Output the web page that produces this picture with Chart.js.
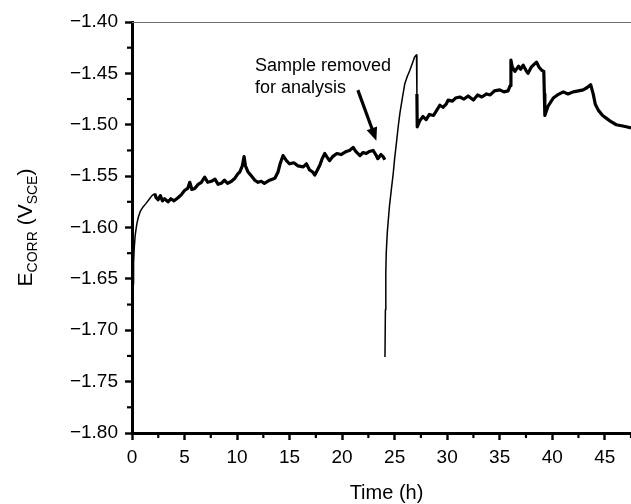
<!DOCTYPE html>
<html>
<head>
<meta charset="utf-8">
<script src="https://cdn.jsdelivr.net/npm/chart.js@4/dist/chart.umd.min.js"></script>
<style>
html,body{margin:0;padding:0;background:#fff;}
#wrap{width:631px;height:504px;position:relative;}
</style>
</head>
<body>
<div id="wrap"><canvas id="c" width="631" height="504"></canvas></div>
<script>
// ---- Data ----
const timeBefore = [0.05,0.1,0.15,0.2,0.3,0.45,0.6,0.8,1.05,1.3,1.6,1.9,2.16,2.3,2.48,2.7,2.9,3.1,3.43,3.7,4.0,4.38,4.7,5.0,5.3,5.5,5.7,5.97,6.3,6.6,6.92,7.2,7.56,7.9,8.2,8.5,8.8,9.1,9.47,9.8,10.05,10.26,10.5,10.67,10.8,11.05,11.3,11.69,12.0,12.3,12.6,13.1,13.6,13.9,14.1,14.38,14.7,15.0,15.4,15.8,16.3,16.6,16.9,17.2,17.4,17.7,17.9,18.1,18.35,18.6,18.8,19.1,19.5,19.9,20.4,20.7,21.05,21.3,21.7,22.0,22.3,22.6,22.95,23.2,23.4,23.7,23.9,24.07];
const ecorrBefore = [-1.675,-1.655,-1.635,-1.622,-1.608,-1.597,-1.590,-1.584,-1.580,-1.577,-1.573,-1.569,-1.567,-1.571,-1.573,-1.569,-1.574,-1.572,-1.575,-1.572,-1.574,-1.571,-1.568,-1.564,-1.562,-1.556,-1.563,-1.562,-1.558,-1.556,-1.551,-1.556,-1.555,-1.553,-1.558,-1.557,-1.554,-1.557,-1.555,-1.552,-1.548,-1.546,-1.540,-1.531,-1.540,-1.546,-1.549,-1.554,-1.556,-1.555,-1.557,-1.554,-1.552,-1.546,-1.538,-1.530,-1.535,-1.538,-1.537,-1.540,-1.541,-1.538,-1.544,-1.546,-1.549,-1.543,-1.539,-1.533,-1.528,-1.532,-1.535,-1.531,-1.528,-1.529,-1.526,-1.525,-1.522,-1.526,-1.530,-1.527,-1.528,-1.526,-1.525,-1.529,-1.533,-1.529,-1.531,-1.534];
const timeAfter = [24.08,24.12,24.16,24.2,24.3,24.5,24.7,24.86,25.0,25.2,25.35,25.5,25.75,25.97,26.2,26.45,26.7,26.9,27.08,27.12,27.15,27.4,27.7,28.0,28.3,28.7,29.0,29.3,29.6,29.9,30.1,30.5,30.8,31.2,31.6,32.0,32.5,32.9,33.3,33.75,34.1,34.5,35.0,35.4,35.8,36.0,36.07,36.2,36.45,36.8,37.0,37.24,37.5,37.7,38.0,38.3,38.5,38.75,39.0,39.2,39.25,39.3,39.6,40.1,40.5,41.05,41.5,42.0,42.5,42.95,43.3,43.66,43.9,44.1,44.4,44.8,45.2,45.6,46.1,46.6,47.05,47.5];
const ecorrAfter = [-1.726,-1.680,-1.645,-1.625,-1.605,-1.580,-1.562,-1.548,-1.533,-1.515,-1.501,-1.489,-1.473,-1.460,-1.453,-1.447,-1.440,-1.434,-1.432,-1.470,-1.502,-1.496,-1.492,-1.495,-1.490,-1.491,-1.486,-1.481,-1.483,-1.480,-1.476,-1.477,-1.474,-1.473,-1.475,-1.472,-1.476,-1.471,-1.473,-1.470,-1.471,-1.467,-1.466,-1.468,-1.467,-1.462,-1.437,-1.444,-1.448,-1.443,-1.446,-1.442,-1.447,-1.450,-1.444,-1.441,-1.439,-1.444,-1.447,-1.448,-1.470,-1.491,-1.482,-1.474,-1.471,-1.468,-1.470,-1.468,-1.467,-1.466,-1.464,-1.461,-1.470,-1.480,-1.486,-1.491,-1.494,-1.497,-1.500,-1.501,-1.502,-1.503];
const xTicks = [0,5,10,15,20,25,30,35,40,45];
const yTicks = [-1.80,-1.75,-1.70,-1.65,-1.60,-1.55,-1.50,-1.45,-1.40];
const annotationLines = ['Sample removed','for analysis'];
const xTitle = 'Time (h)';
// smooth (low-noise) stretches drawn with a thinner pen
const smoothRanges = [[0, 2.0], [24.07, 27.1]];

// ---- build dataset ----
const points = [];
timeBefore.forEach((t,i)=>points.push({x:t,y:ecorrBefore[i]}));
points.push({x:24.075,y:null});
timeAfter.forEach((t,i)=>points.push({x:t,y:ecorrAfter[i]}));

Chart.defaults.font.family = 'Arial, "Liberation Sans", Helvetica, sans-serif';
Chart.defaults.color = '#000';

const MINUS = '\u2212';
function fmtY(v){ return (v<0?MINUS:'') + Math.abs(v).toFixed(2); }

const decor = {
  id:'decor',
  afterDraw(chart){
    const ctx = chart.ctx, ca = chart.chartArea;
    const xs = chart.scales.x, ys = chart.scales.y;
    ctx.save();
    // top frame line
    ctx.strokeStyle = '#6e6e6e'; ctx.lineWidth = 1;
    ctx.beginPath(); ctx.moveTo(ca.left, ca.top+0.5); ctx.lineTo(ca.right, ca.top+0.5); ctx.stroke();
    // minor ticks
    ctx.strokeStyle = '#000'; ctx.lineWidth = 2.2;
    for (let i=0;i<xTicks.length;i++){
      const mv = xTicks[i] + 2.5;
      if (mv > xs.max) break;
      const px = xs.getPixelForValue(mv);
      ctx.beginPath(); ctx.moveTo(px, ca.bottom); ctx.lineTo(px, ca.bottom+5); ctx.stroke();
    }
    for (let i=0;i<yTicks.length-1;i++){
      const mv = (yTicks[i]+yTicks[i+1])/2;
      const py = ys.getPixelForValue(mv);
      ctx.beginPath(); ctx.moveTo(ca.left, py); ctx.lineTo(ca.left-5, py); ctx.stroke();
    }
    // annotation text
    ctx.fillStyle = '#000';
    ctx.font = '18px Arial, "Liberation Sans", sans-serif';
    ctx.textAlign = 'left'; ctx.textBaseline = 'middle';
    const tx = xs.getPixelForValue(11.7);
    ctx.fillText(annotationLines[0], tx, ys.getPixelForValue(-1.4425));
    ctx.fillText(annotationLines[1], tx, ys.getPixelForValue(-1.4645));
    // arrow
    const ax0 = xs.getPixelForValue(21.5), ay0 = ys.getPixelForValue(-1.4663);
    const ax1 = xs.getPixelForValue(23.26), ay1 = ys.getPixelForValue(-1.5155);
    const ang = Math.atan2(ay1-ay0, ax1-ax0);
    const headLen = 13, headW = 5.5;
    const bx = ax1 - headLen*Math.cos(ang), by = ay1 - headLen*Math.sin(ang);
    ctx.lineWidth = 3.2; ctx.lineCap = 'butt';
    ctx.beginPath(); ctx.moveTo(ax0, ay0); ctx.lineTo(bx+3*Math.cos(ang), by+3*Math.sin(ang)); ctx.stroke();
    ctx.beginPath();
    ctx.moveTo(ax1, ay1);
    ctx.lineTo(bx + headW*Math.sin(ang), by - headW*Math.cos(ang));
    ctx.lineTo(bx - headW*Math.sin(ang), by + headW*Math.cos(ang));
    ctx.closePath(); ctx.fill();
    // x title
    ctx.textAlign = 'center'; ctx.textBaseline = 'middle';
    ctx.font = '20px Arial, "Liberation Sans", sans-serif';
    ctx.fillText(xTitle, (ca.left+ca.right)/2 + 5, ca.bottom + 60);
    // y title with subscripts, rotated
    ctx.translate(25, (ca.top+ca.bottom)/2);
    ctx.rotate(-Math.PI/2);
    const big = '21px Arial, "Liberation Sans", sans-serif';
    const small = '14px Arial, "Liberation Sans", sans-serif';
    const parts = [['E',big,0],['CORR',small,5],[' (V',big,0],['SCE',small,5],[')',big,0]];
    let total = 0;
    parts.forEach(p=>{ctx.font=p[1]; total += ctx.measureText(p[0]).width;});
    let cx = -total/2;
    ctx.textAlign = 'left'; ctx.textBaseline = 'alphabetic';
    parts.forEach(p=>{ctx.font=p[1]; ctx.fillText(p[0], cx, 7 + p[2]); cx += ctx.measureText(p[0]).width;});
    ctx.restore();
  }
};

const thin = ctx => {
  const x0 = ctx.p0.parsed.x;
  for (const r of smoothRanges) if (x0 >= r[0] && x0 < r[1]) return 1.5;
  return 3.2;
};

new Chart(document.getElementById('c'), {
  type:'line',
  data:{datasets:[{
    data:points,
    borderColor:'#000',
    borderWidth:3.2,
    borderJoinStyle:'round',
    pointRadius:0,
    tension:0,
    spanGaps:false,
    segment:{borderWidth:thin}
  }]},
  options:{
    responsive:false,
    animation:false,
    events:[],
    layout:{padding:{top:22,right:0,left:0,bottom:0}},
    plugins:{legend:{display:false},tooltip:{enabled:false}},
    scales:{
      x:{
        type:'linear', min:0, max:47.5,
        afterFit:s=>{s.height = 71;},
        grid:{drawOnChartArea:false, drawTicks:true, tickLength:7, tickWidth:2.4, tickColor:'#000', color:'rgba(0,0,0,0)'},
        border:{display:true, color:'#000', width:3},
        afterBuildTicks:s=>{s.ticks = xTicks.map(v=>({value:v}));},
        ticks:{font:{size:19}, padding:6, maxRotation:0, autoSkip:false, callback:v=>String(v)}
      },
      y:{
        type:'linear', min:-1.80, max:-1.40,
        afterFit:s=>{s.width = 132;},
        grid:{drawOnChartArea:false, drawTicks:true, tickLength:7, tickWidth:2.4, tickColor:'#000', color:'rgba(0,0,0,0)'},
        border:{display:true, color:'#000', width:3},
        afterBuildTicks:s=>{s.ticks = yTicks.map(v=>({value:v}));},
        ticks:{font:{size:19}, padding:7, autoSkip:false, callback:v=>fmtY(v)}
      }
    }
  },
  plugins:[decor]
});
</script>
</body>
</html>
